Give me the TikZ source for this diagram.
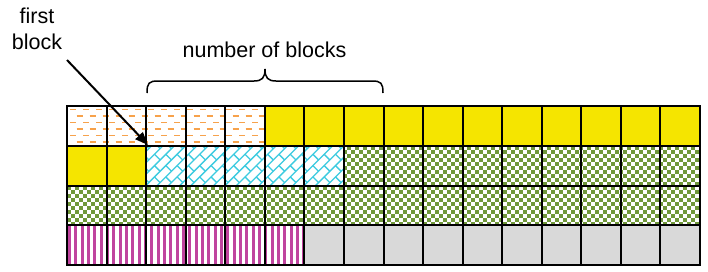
\documentclass[tikz,border=0pt]{standalone}
\usepackage{fontspec}
\setmainfont{Liberation Sans}
\usetikzlibrary{arrows.meta}
\definecolor{cyel}{RGB}{245,229,0}
\definecolor{cgray}{RGB}{217,217,217}
\definecolor{corange}{RGB}{247,162,75}
\definecolor{ccyan}{RGB}{60,203,224}
\definecolor{cgreen}{RGB}{112,152,58}
\definecolor{cmag}{RGB}{192,68,159}
\begin{document}
\begin{tikzpicture}[x=1pt,y=-1pt,
  txt/.style={font=\fontsize{21.5}{25}\selectfont, inner sep=0pt, anchor=base},
  gridline/.style={line width=2pt, black}]
\useasboundingbox (0,0) rectangle (708,271);
\fill[white] (0,0) rectangle (708,271);

% solid fills
\fill[cyel] (264.81,106) rectangle (700,145.75);
\fill[cyel] (67,145.75) rectangle (146.13,185.5);
\fill[cgray] (304.38,225.25) rectangle (700,265);

% orange dashes
\begin{scope}
\clip (67,106) rectangle (264.81,145.75);
\foreach \r in {0,...,6} {
  \pgfmathsetmacro\ph{mod(\r,2)*6.5}
  \draw[corange, line width=1.8pt, dash pattern=on 6pt off 7pt, dash phase=\ph pt]
    (70,109.5+\r*6.5) -- (280,109.5+\r*6.5);
}
\end{scope}

% cyan diagonal brick
\begin{scope}
\clip (146.13,145.75) rectangle (343.94,185.5);
\begin{scope}[shift={(245,165.6)}, rotate=45]
\foreach \k in {-15,...,15} {
  \draw[ccyan, line width=1.3pt] (-160,\k*8) -- (160,\k*8);
  \pgfmathsetmacro\off{mod(\k,2)*8}
  \foreach \m in {-10,...,10} {
    \draw[ccyan, line width=1.3pt] (\m*16+\off,\k*8) -- ++(0,8);
  }
}
\end{scope}
\end{scope}

% green checker
\begin{scope}
\clip (343.94,145.75) rectangle (700,185.5) (67,185.5) rectangle (700,225.25);
\foreach \r in {0,...,19} {
  \pgfmathsetmacro\ph{mod(\r,2)*4}
  \draw[cgreen, line width=4pt, dash pattern=on 4pt off 4pt, dash phase=\ph pt]
    (67,147.75+\r*4) -- (704,147.75+\r*4);
}
\end{scope}

% magenta stripes
\begin{scope}
\clip (67,225.25) rectangle (304.38,265);
\foreach \i in {0,...,38} {
  \draw[cmag, line width=3pt] (69.5+\i*6.33,225.25) -- (69.5+\i*6.33,265);
}
\end{scope}

% grid
\foreach \i in {0,...,16} {
  \draw[gridline] (67+\i*39.5625,106) -- (67+\i*39.5625,265);
}
\foreach \j in {0,...,4} {
  \draw[gridline] (66,106+\j*39.75) -- (701,106+\j*39.75);
}

% labels
\node[txt] (first) at (37,23.5) {first};
\node[txt] (block) at (37,49) {block};
\node[txt] (nob) at (264.5,57) {number of blocks};

% arrow
\coordinate (astart) at (67,60);
\coordinate (atip) at (148,145);
\draw[line width=2pt, -{Triangle[length=13pt,width=10pt]}] (astart) -- (atip);

% brace
\coordinate (bl) at (147,93);
\coordinate (bm) at (265,69);
\coordinate (br) at (383,93);
\draw[line width=1.5pt] (bl) .. controls (147,83) and (149,81) .. (158,81) -- (254,81)
  .. controls (262,81) and (265,78) .. (bm)
  .. controls (265,78) and (268,81) .. (276,81) -- (372,81)
  .. controls (381,81) and (383,83) .. (br);
\end{tikzpicture}
\end{document}
